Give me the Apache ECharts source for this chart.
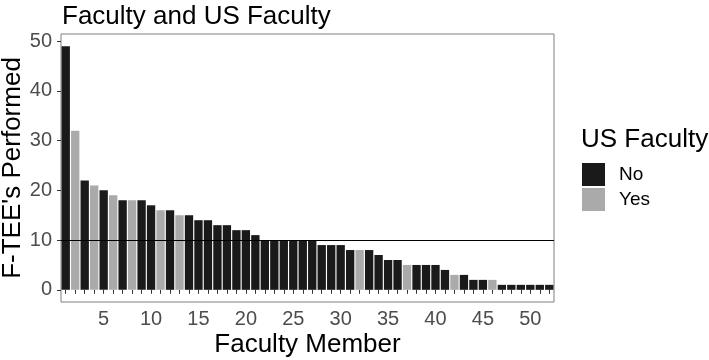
<!DOCTYPE html>
<html>
<head>
<meta charset="utf-8">
<script src="https://cdn.jsdelivr.net/npm/echarts@6/dist/echarts.min.js"></script>
<style>html,body{margin:0;padding:0;background:#fff}#chart{width:709px;height:360px}</style>
</head>
<body>
<div id="chart"></div>
<script>
const members = Array.from({length: 52}, (_, i) => String(i + 1));
const performed = [49,32,22,21,20,19,18,18,18,17,16,16,15,15,14,14,13,13,12,12,11,10,10,10,10,10,10,9,9,9,8,8,8,7,6,6,5,5,5,5,4,3,3,2,2,2,1,1,1,1,1,1];
const usFaculty = ['No','Yes','No','Yes','No','Yes','No','Yes','No','No','Yes','No','Yes','No','No','No','No','No','No','No','No','No','No','No','No','No','No','No','No','No','No','Yes','No','No','No','No','Yes','No','No','No','No','Yes','No','No','No','Yes','No','No','No','No','No','No'];
const groups = ['No', 'Yes'];
const groupColors = {No: '#1a1a1a', Yes: '#aaaaaa'};
const yTicks = [0, 10, 20, 30, 40, 50];
const refLine = 10;
const FONT = 'Liberation Sans, Arial, sans-serif';

const series = groups.map((g, gi) => ({
  name: g,
  type: 'bar',
  barWidth: '88%',
  barGap: '-100%',
  itemStyle: {color: groupColors[g]},
  data: performed.map((v, i) => usFaculty[i] === g ? v : '-'),
  markLine: gi === 0 ? {
    silent: true, symbol: 'none', label: {show: false},
    lineStyle: {color: '#000', width: 1.2, type: 'solid'},
    data: [{yAxis: refLine}]
  } : undefined
}));

const chart = echarts.init(document.getElementById('chart'));
chart.setOption({
  animation: false,
  textStyle: {fontFamily: FONT},
  title: [
    {text: 'Faculty and US Faculty', left: 57, top: -1,
     textStyle: {fontFamily: FONT, fontSize: 26, fontWeight: 'normal', color: '#000'}},
    {text: 'US Faculty', left: 576, top: 122,
     textStyle: {fontFamily: FONT, fontSize: 26, fontWeight: 'normal', color: '#000'}}
  ],
  legend: {
    orient: 'vertical', left: 582, top: 163, padding: 0,
    itemWidth: 23, itemHeight: 23, itemGap: 2, icon: 'rect',
    textStyle: {fontFamily: FONT, fontSize: 19, color: '#000', padding: [0,0,0,9]},
    data: groups
  },
  grid: {left: 61, right: 155, top: 34, bottom: 58, show: true, borderColor: '#7f7f7f', borderWidth: 1,
         backgroundColor: 'transparent', containLabel: false, outerBoundsMode: 'none'},
  xAxis: {
    type: 'category', data: members, boundaryGap: true,
    name: 'Faculty Member', nameLocation: 'middle', nameGap: 30, nameMoveOverlap: false,
    nameTextStyle: {fontFamily: FONT, fontSize: 26, color: '#000'},
    axisLine: {show: false},
    axisTick: {show: true, alignWithLabel: true, interval: 0, length: 4, lineStyle: {color: '#333'}},
    axisLabel: {interval: (i) => (i + 1) % 5 === 0, fontSize: 20, color: '#4d4d4d', margin: 7, fontFamily: FONT},
    splitLine: {show: false}
  },
  yAxis: {
    type: 'value', min: -2.45, max: 51.45,
    name: "F-TEE's Performed", nameLocation: 'middle', nameGap: 35, nameMoveOverlap: false,
    nameTextStyle: {fontFamily: FONT, fontSize: 26, color: '#000'},
    axisLine: {show: false},
    axisTick: {show: true, length: 4, customValues: yTicks, lineStyle: {color: '#333'}},
    axisLabel: {customValues: yTicks, fontSize: 20, color: '#4d4d4d', margin: 9, fontFamily: FONT},
    splitLine: {show: false}
  },
  series: series
});
</script>
</body>
</html>
